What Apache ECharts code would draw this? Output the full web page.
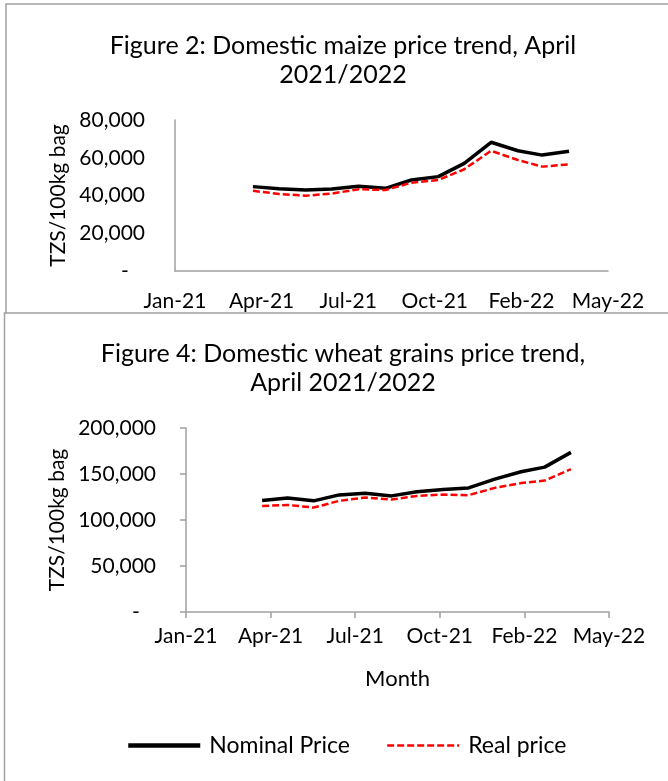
<!DOCTYPE html>
<html>
<head>
<meta charset="utf-8">
<script src="https://cdn.jsdelivr.net/npm/echarts@6/dist/echarts.min.js"></script>
<style>
  html, body { margin: 0; padding: 0; background: #fff; }
  #chart { width: 668px; height: 781px; }
</style>
</head>
<body>
<div id="chart"></div>
<script>
// Monthly observation dates (first of month)
const months = ['2021-04', '2021-05', '2021-06', '2021-07', '2021-08', '2021-09', '2021-10',
                '2021-11', '2021-12', '2022-01', '2022-02', '2022-03', '2022-04'];

// Maize, TZS per 100kg bag
const maizeNominal = [44700, 43600, 42900, 43500, 44900, 43800, 48200, 50000, 57000, 68200, 63700, 61400, 63400];
const maizeReal    = [42500, 40800, 39900, 41000, 43300, 42900, 46800, 48200, 53900, 63700, 58800, 55300, 56500];

// Wheat grains, TZS per 100kg bag
const wheatNominal = [121100, 124000, 120800, 127300, 129100, 126200, 130600, 133100, 134900, 144400, 152400, 157500, 173500];
const wheatReal    = [115300, 116400, 113500, 120800, 124400, 122200, 126200, 127700, 127000, 134900, 140100, 142900, 155300];

// Date-axis tick labels, one every 100 days from 1 Jan 2021
const xTickLabels = ['Jan-21', 'Apr-21', 'Jul-21', 'Oct-21', 'Feb-22', 'May-22'];

const seriesNames = ['Nominal Price', 'Real price'];
const titles = [
  'Figure 2: Domestic maize price trend, April\n2021/2022',
  'Figure 4: Domestic wheat grains price trend,\nApril 2021/2022'
];
const yAxisName = 'TZS/100kg bag';
const xAxisName = 'Month';

const FONT = 'Lato';
const DAY = 86400000;
const origin = Date.UTC(2021, 0, 1);
const dayOffsets = months.map(m => {
  const [y, mo] = m.split('-').map(Number);
  return (Date.UTC(y, mo - 1, 1) - origin) / DAY;
});
const pairs = vals => vals.map((v, i) => [dayOffsets[i], v]);

const axisGrey = '#a0a0a0';

function xAxis(gridIndex, withTicks, name) {
  return {
    type: 'value', gridIndex, min: 0, max: 500, interval: 100,
    name: name || '', nameLocation: 'middle', nameGap: 56,
    nameTextStyle: { fontFamily: FONT, fontSize: 22, color: '#000' },
    axisLine: { show: true, lineStyle: { color: axisGrey, width: 1.5 } },
    axisTick: { show: withTicks, length: 6, lineStyle: { color: axisGrey, width: 1.5 } },
    splitLine: { show: false },
    axisLabel: {
      fontFamily: FONT, fontSize: 21, color: '#000', margin: withTicks ? 14 : 20,
      formatter: v => xTickLabels[Math.round(v / 100)]
    }
  };
}

function yAxis(gridIndex, max, interval, withTicks, gap) {
  return {
    type: 'value', gridIndex, min: 0, max, interval,
    name: yAxisName, nameLocation: 'middle', nameRotate: 90, nameGap: gap,
    nameTextStyle: { fontFamily: FONT, fontSize: 21, color: '#000' },
    axisLine: { show: true, lineStyle: { color: axisGrey, width: 1.5 } },
    axisTick: { show: withTicks, length: 6, lineStyle: { color: axisGrey, width: 1.5 } },
    splitLine: { show: false },
    axisLabel: {
      fontFamily: FONT, fontSize: 21, color: '#000', margin: 30,
      formatter: v => v === 0 ? '-   ' : v.toLocaleString('en-US')
    }
  };
}

function nominal(idx, data) {
  return {
    name: seriesNames[0], type: 'line', xAxisIndex: idx, yAxisIndex: idx,
    data: pairs(data), symbol: 'none', smooth: false,
    lineStyle: { color: '#000', width: 3.5 }, itemStyle: { color: '#000' }
  };
}
function real(idx, data) {
  return {
    name: seriesNames[1], type: 'line', xAxisIndex: idx, yAxisIndex: idx,
    data: pairs(data), symbol: 'none', smooth: false,
    lineStyle: { color: '#ff0000', width: 2.5, type: [7, 3] }, itemStyle: { color: '#ff0000' }
  };
}

const titleStyle = { fontFamily: FONT, fontSize: 25, fontWeight: 'normal', color: '#000', lineHeight: 29 };

const chart = echarts.init(document.getElementById('chart'), null, { renderer: 'canvas' });
chart.setOption({
  backgroundColor: '#fff',
  animation: false,
  graphic: [
    { type: 'rect', z: -20, shape: { x: 6, y: 4, width: 720, height: 400 },
      style: { fill: '#fff', stroke: axisGrey, lineWidth: 1.5 } },
    { type: 'rect', z: -10, shape: { x: 4.5, y: 313, width: 720, height: 520 },
      style: { fill: '#fff', stroke: axisGrey, lineWidth: 1.5 } }
  ],
  title: [
    { text: titles[0], left: 338, top: 26, textAlign: 'center', textStyle: titleStyle },
    { text: titles[1], left: 338, top: 334, textAlign: 'center', textStyle: titleStyle }
  ],
  legend: {
    left: 121, top: 729, itemWidth: 72, itemHeight: 16, itemGap: 36,
    data: [
      { name: seriesNames[0], lineStyle: { width: 4.5 } },
      { name: seriesNames[1], lineStyle: { width: 2.5 } }
    ],
    itemStyle: { opacity: 0 },
    textStyle: { fontFamily: FONT, fontSize: 23, color: '#000', padding: [0, 0, 0, 4] }
  },
  grid: [
    { left: 175, right: 60, top: 120, bottom: 510 },
    { left: 186, right: 59, top: 428, bottom: 169 }
  ],
  xAxis: [xAxis(0, false), xAxis(1, true, xAxisName)],
  yAxis: [yAxis(0, 80000, 20000, false, 105), yAxis(1, 200000, 50000, true, 115)],
  series: [
    nominal(0, maizeNominal), real(0, maizeReal),
    nominal(1, wheatNominal), real(1, wheatReal)
  ]
});
</script>
</body>
</html>
